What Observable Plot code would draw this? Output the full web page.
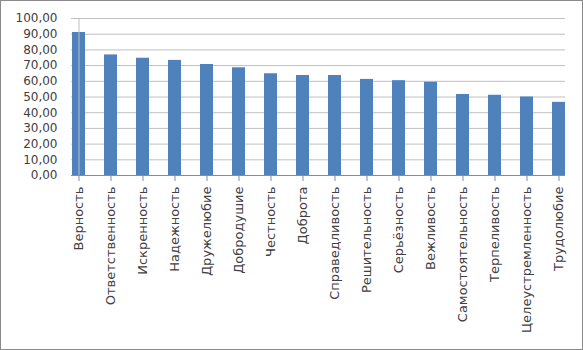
<!DOCTYPE html>
<html>
<head>
<meta charset="utf-8">
<script src="https://cdn.jsdelivr.net/npm/d3@7"></script>
<script src="https://cdn.jsdelivr.net/npm/@observablehq/plot@0.6"></script>
<style>
  html, body { margin: 0; padding: 0; background: #fff; }
  #chart svg { display: block; outline: 1px solid #8a8a8a; outline-offset: -1px; }
</style>
</head>
<body>
<div id="chart"></div>
<script>
const categories = ["Верность", "Ответственность", "Искренность", "Надежность", "Дружелюбие", "Добродушие", "Честность", "Доброта", "Справедливость", "Решительность", "Серьёзность", "Вежливость", "Самостоятельность", "Терпеливость", "Целеустремленность", "Трудолюбие"];
const values = [91.1, 76.8, 74.7, 73.3, 70.7, 68.6, 64.8, 63.7, 63.7, 61.2, 60.4, 59.4, 51.6, 51.1, 50.0, 46.6];
const yTicks = [0, 10, 20, 30, 40, 50, 60, 70, 80, 90, 100];

const data = categories.map((c, i) => ({ category: c, value: values[i] }));

const W = 583, H = 350;
const pLeft = 71, pRight = 565, pTop = 18, pBottom = 175;
const step = (pRight - pLeft) / (categories.length - 1);
const r0 = pLeft - 0.2 * step;
const r1 = r0 + (categories.length - 0.6) * step;
const fmt = d => d.toFixed(2).replace(".", ",");

const chart = Plot.plot({
  width: W,
  height: H,
  marginLeft: pLeft,
  marginRight: W - pRight,
  marginTop: pTop,
  marginBottom: H - pBottom,
  style: { fontFamily: "DejaVu Sans", color: "#404040", background: "#fff" },
  x: { type: "band", domain: categories, range: [r0, r1], paddingInner: 0.6, paddingOuter: 0, align: 0.5, label: null },
  y: { domain: [0, 100], range: [pBottom, pTop], label: null },
  marks: [
    Plot.gridY(yTicks, { stroke: "#c0c0c0", strokeOpacity: 1, strokeWidth: 1 }),
    Plot.barY(data, { x: "category", y: "value", fill: "#4f81bd", clip: true }),
    Plot.ruleY([0], { stroke: "#8c8c8c", strokeWidth: 1 }),
    Plot.ruleX([categories[0]], { y1: 0, y2: 100, stroke: "#bfbfbf", strokeWidth: 1 }),
    Plot.axisY({ ticks: yTicks, tickFormat: fmt, tickSize: 0, tickPadding: 14, fontSize: 12, fill: "#404040", label: null }),
    Plot.axisX({ tickRotate: -90, tickSize: 6, tickPadding: 5, fontSize: 13, stroke: "#8c8c8c", fill: "#404040", label: null })
  ]
});

document.getElementById("chart").appendChild(chart);
</script>
</body>
</html>
